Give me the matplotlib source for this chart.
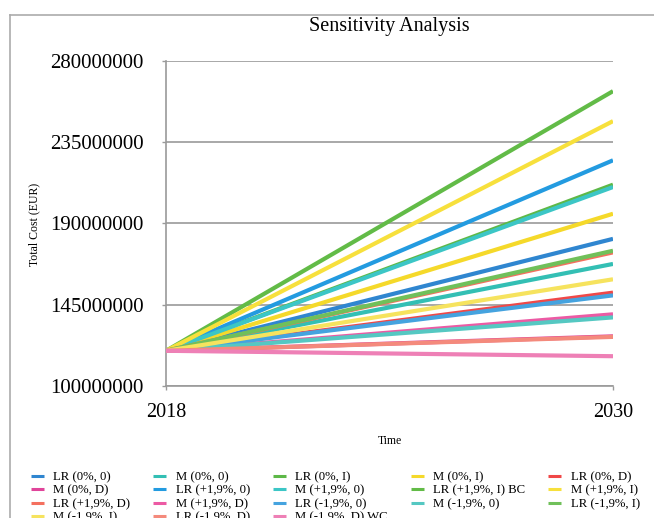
import matplotlib
matplotlib.use("Agg")
import matplotlib.pyplot as plt
from matplotlib.lines import Line2D

# ---------------- data ----------------
years = [2018, 2030]
start_value = 119_500_000

series_labels = [
    "LR (0%, 0)", "M (0%, 0)", "LR (0%, I)", "M (0%, I)", "LR (0%, D)",
    "M (0%, D)", "LR (+1,9%, 0)", "M (+1,9%, 0)", "LR (+1,9%, I) BC", "M (+1,9%, I)",
    "LR (+1,9%, D)", "M (+1,9%, D)", "LR (-1,9%, 0)", "M (-1,9%, 0)", "LR (-1,9%, I)",
    "M (-1,9%, I)", "LR (-1,9%, D)", "M (-1,9%, D) WC",
]
end_values = [
    181_500_000, 167_600_000, 211_500_000, 195_400_000, 151_700_000,
    127_500_000, 225_000_000, 210_200_000, 263_300_000, 246_700_000,
    174_000_000, 139_700_000, 150_200_000, 138_000_000, 174_900_000,
    159_100_000, 127_200_000, 116_500_000,
]
series_colors = [
    "#2F86D0", "#33BFB4", "#5DB847", "#F5D92A", "#F04848",
    "#E0449A", "#239BE0", "#3CC6C6", "#62BB47", "#F7E03C",
    "#F4705F", "#EC5AA4", "#45A3DF", "#55C8C2", "#70C05A",
    "#F6E35E", "#F48A7C", "#EE80B6",
]

y_ticks = [100_000_000, 145_000_000, 190_000_000, 235_000_000, 280_000_000]
y_tick_labels = ["100000000", "145000000", "190000000", "235000000", "280000000"]
x_tick_labels = ["2018", "2030"]

# ---------------- figure ----------------
W, H = 654, 518
DPI = 100
plt.rcParams['font.family'] = ['Liberation Serif', 'DejaVu Serif']
fig = plt.figure(figsize=(W / DPI, H / DPI), dpi=DPI)
fig.patch.set_facecolor("white")

def fx(px):
    return px / W

def fy(py):
    return 1 - py / H

ax_left, ax_right, ax_top, ax_bot = 166, 613, 61, 386
ax = fig.add_axes([fx(ax_left), fy(ax_bot), fx(ax_right - ax_left), (ax_bot - ax_top) / H])

grid_col = "#9A9A9A"
handles = []
for lab, ev, col in zip(series_labels, end_values, series_colors):
    h, = ax.plot(years, [start_value, ev], color=col, lw=3.0, label=lab,
                 solid_capstyle="butt", zorder=3)
    handles.append(h)

ax.set_xlim(years[0], years[-1])
ax.set_ylim(y_ticks[0], y_ticks[-1])
ax.set_yticks(y_ticks)
ax.set_yticklabels(y_tick_labels)
ax.set_xticks(years)
ax.set_xticklabels(x_tick_labels)
ax.tick_params(axis="y", labelsize=15, length=3, width=1, color=grid_col, pad=13)
ax.tick_params(axis="x", labelsize=14.5, length=3, width=1, color=grid_col, pad=9)
ax.yaxis.grid(True, color=grid_col, lw=1.2, zorder=0)
ax.set_axisbelow(True)
for s in ["top", "right"]:
    ax.spines[s].set_visible(False)
for s in ["left", "bottom"]:
    ax.spines[s].set_color(grid_col)
    ax.spines[s].set_linewidth(1.2)

# titles / labels
fig.text(fx(389.5), fy(26), "Sensitivity Analysis", ha="center", va="center", fontsize=14.5)
fig.text(fx(390), fy(441), "Time", ha="center", va="center", fontsize=8.5)
fig.text(fx(34), fy(224), "Total Cost (EUR)", ha="center", va="center",
         rotation=90, fontsize=8.5)

# outer chart frame (cropped)
frame_col = "#ABABAB"
fig.add_artist(Line2D([fx(10), 1.0], [fy(15), fy(15)], color=frame_col, lw=1.2))
fig.add_artist(Line2D([fx(10), fx(10)], [fy(15), 0.0], color=frame_col, lw=1.2))

# legend, row-wise order via column-major reordering
ncol = 5
n = len(handles)
nrows = -(-n // ncol)
order = []
for c in range(ncol):
    for r in range(nrows):
        i = r * ncol + c
        if i < n:
            order.append(i)
leg = fig.legend([handles[i] for i in order], [series_labels[i] for i in order],
                 ncol=ncol, loc="upper left", bbox_to_anchor=(fx(31), fy(471)),
                 frameon=False, fontsize=9.2, handlelength=1.0, handletextpad=0.75,
                 columnspacing=1.8, labelspacing=0.12, borderpad=0, borderaxespad=0)
for ln in leg.get_lines():
    ln.set_linewidth(2.2)

fig.savefig("out.png", dpi=DPI)
